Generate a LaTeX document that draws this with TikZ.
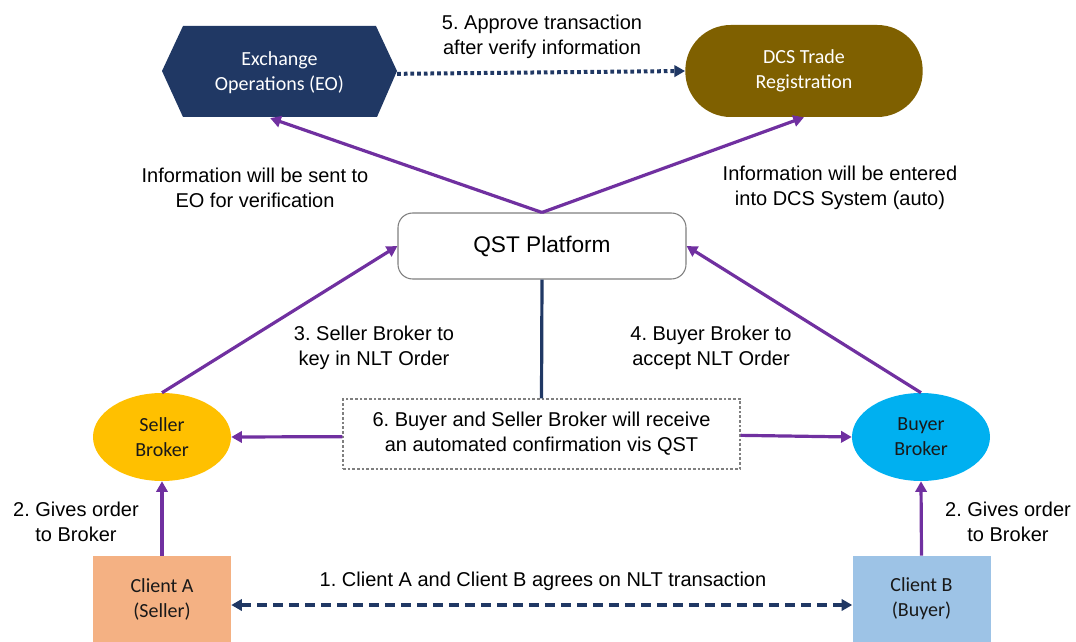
\documentclass[tikz,border=0pt]{standalone}
\usepackage{fontspec}
\setmainfont{Liberation Sans}
\newfontfamily\calfont{Carlito}
\usetikzlibrary{arrows.meta,shapes.geometric,calc}
\definecolor{navy}{HTML}{203864}
\definecolor{olive}{HTML}{7F6000}
\definecolor{purp}{HTML}{7030A0}
\definecolor{sellc}{HTML}{FFC000}
\definecolor{buyc}{HTML}{00B0F0}
\definecolor{clac}{HTML}{F4B183}
\definecolor{clbc}{HTML}{9DC3E6}
\definecolor{grayb}{HTML}{7F7F7F}
\tikzset{
  lbl/.style={font=\frenchspacing\fontsize{15}{18.75}\selectfont, align=center, inner sep=0pt, text=black},
  boxtxt/.style={font=\calfont\fontsize{15}{18.75}\selectfont, align=center, inner sep=0pt},
  flow/.style={draw=purp, line width=2.4pt, -{Triangle[length=8pt,width=8.5pt]}},
  broker/.style={ellipse, boxtxt, minimum width=103.5pt, minimum height=66pt, text=black!90},
  client/.style={rectangle, boxtxt, minimum width=103.5pt, minimum height=64.5pt, text=black!90},
}
\begin{document}
\begin{tikzpicture}[x=0.75pt,y=-0.75pt]
\useasboundingbox (0,0) rectangle (1076,642);
% EO hexagon
\fill[navy] (162,71) -- (183,26) -- (376,26) -- (397,71) -- (377,117) -- (183,117) -- cycle;
\node[boxtxt, text=white, minimum width=176pt, minimum height=68pt] (eo) at (279.5,72.5) {Exchange\\Operations (EO)};
% DCS
\node[boxtxt, text=white, fill=olive, rounded corners=34pt, minimum width=178pt, minimum height=69pt] (dcs) at (804,71) {DCS Trade\\Registration};
% QST
\node[lbl, draw=grayb, line width=0.8pt, fill=white, rounded corners=11pt, minimum width=216pt, minimum height=49.5pt, font=\fontsize{17}{20}\selectfont] (qst) at (542,246) {QST Platform};
% brokers
\node[broker, fill=sellc] (seller) at (162,437) {Seller\\Broker};
\node[broker, fill=buyc] (buyer) at (921,437) {Buyer\\Broker};
% clients
\node[client, fill=clac] (cla) at (162,599) {Client A\\(Seller)};
\node[client, fill=clbc] (clb) at (921.5,599) {Client B\\(Buyer)};
% box 6
\node[lbl, draw=grayb, dashed, dash pattern=on 2pt off 1.5pt, line width=0.8pt, minimum width=297.75pt, minimum height=52.5pt] (conf) at (541.5,434) {6. Buyer and Seller Broker will receive\\an automated confirmation vis QST};
% connectors
\draw[flow] (qst.north) -- ([xshift=-7pt]eo.south);
\draw[flow] (qst.north) -- (dcs.south);
\draw[flow] (seller.north) -- (qst.west);
\draw[flow] (buyer.north) -- (qst.east);
\draw[flow] ([yshift=-2pt]conf.west) -- (seller.east);
\draw[flow] ([yshift=-1pt]conf.east) -- (buyer.west);
\draw[flow] (cla.north) -- (seller.south);
\draw[flow] (clb.north) -- (buyer.south);
\draw[navy, line width=2.4pt] (qst.south) -- (conf.north);
\draw[navy, line width=2.6pt, dash pattern=on 7.5pt off 4.5pt, {Triangle[length=8pt,width=8.5pt]}-{Triangle[length=8pt,width=8.5pt]}] ([yshift=-4.5pt]cla.east) -- ([yshift=-4.5pt]clb.west);
\draw[navy, line width=3pt, dash pattern=on 2.8pt off 2.2pt, -{Triangle[length=8pt,width=8.5pt]}] ([yshift=-1pt]eo.east) -- (dcs.west);
% labels
\node[lbl] (l5) at (542,37) {5. Approve transaction\\after verify information};
\node[lbl] (linfo1) at (255,188) {Information will be sent to\\EO for verification};
\node[lbl] (linfo2) at (840,188) {Information will be entered\\into DCS System (auto)};
\node[lbl] (l3) at (374,348) {3. Seller Broker to\\key in NLT Order};
\node[lbl] (l4) at (711,348) {4. Buyer Broker to\\accept NLT Order};
\node[lbl] (l2a) at (76,522) {2. Gives order\\to Broker};
\node[lbl] (l2b) at (1008,522) {2. Gives order\\to Broker};
\node[lbl] (l1) at (543,581) {1. Client A and Client B agrees on NLT transaction};
\end{tikzpicture}
\end{document}
